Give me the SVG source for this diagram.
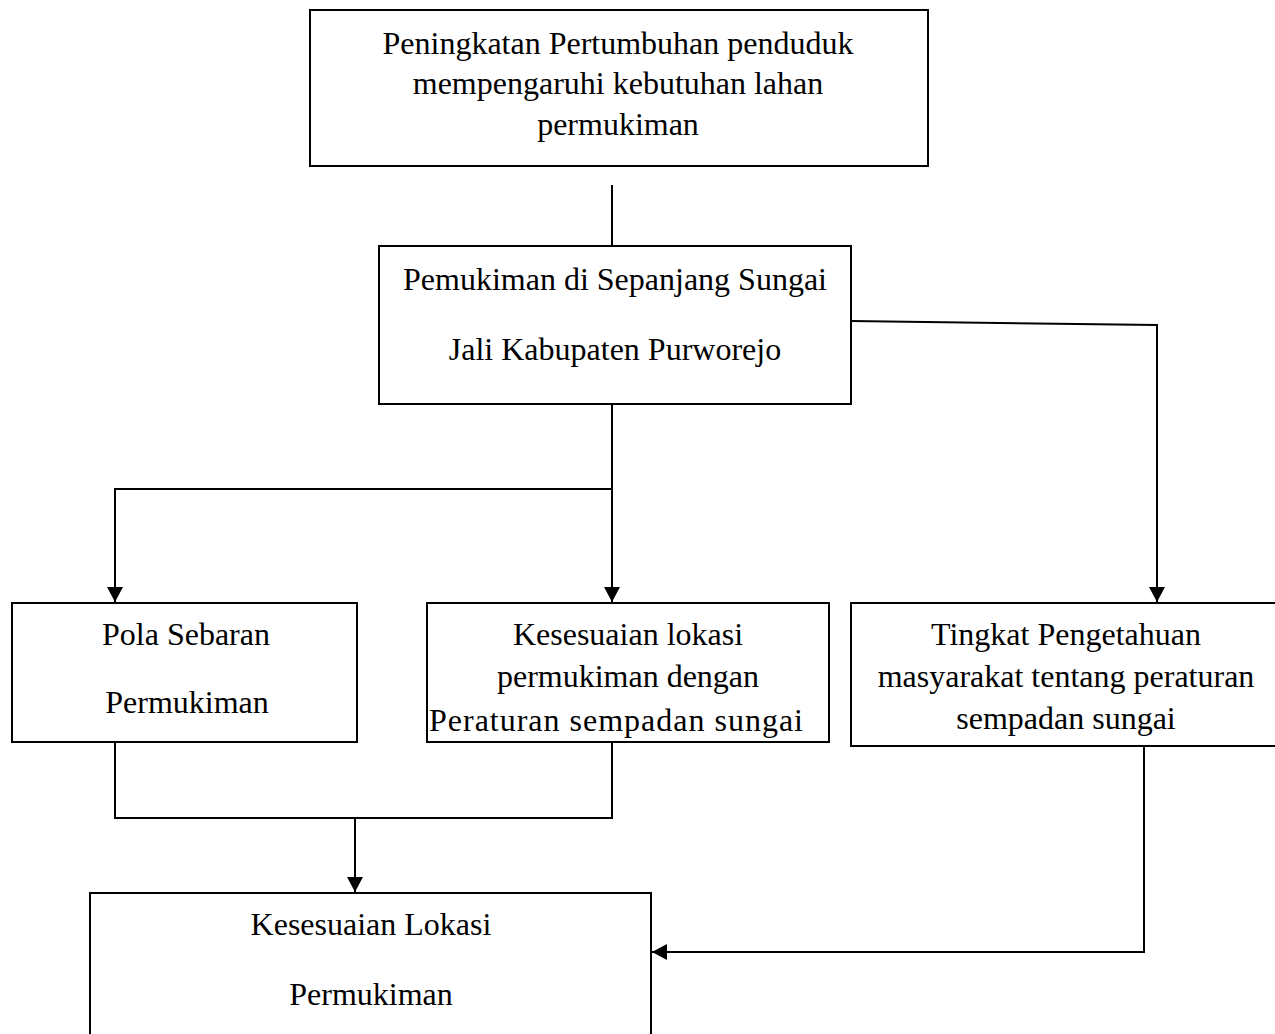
<svg xmlns="http://www.w3.org/2000/svg" width="1275" height="1034" viewBox="0 0 1275 1034">
<style>
.box{fill:#fff;stroke:#000;stroke-width:2}
.t{font-family:"Liberation Serif","Times New Roman",serif;font-size:32px;fill:#000;text-anchor:middle}
.c{fill:none;stroke:#000;stroke-width:2}
</style>
<defs>
<marker id="ah" markerWidth="16" markerHeight="15" refX="8" refY="15" orient="0" markerUnits="userSpaceOnUse">
<path d="M0,0 L16,0 L8,15 Z" fill="#000"/>
</marker>
<marker id="al" markerWidth="15" markerHeight="16" refX="0" refY="8" orient="0" markerUnits="userSpaceOnUse">
<path d="M15,0 L15,16 L0,8 Z" fill="#000"/>
</marker>
<clipPath id="clipK"><rect x="427" y="603" width="402" height="138"/></clipPath>
</defs>
<g id="connectors">
<path class="c" d="M612,185 V246"/>
<path class="c" d="M612,404 V489 H115 V602" marker-end="url(#ah)"/>
<path class="c" d="M612,489 V602" marker-end="url(#ah)"/>
<path class="c" d="M851,321 L1157,325 V602" marker-end="url(#ah)"/>
<path class="c" d="M115,742 V818 H612 V742"/>
<path class="c" d="M355,818 V892" marker-end="url(#ah)"/>
<path class="c" d="M1144,746 V952 H652" marker-end="url(#al)"/>
</g>
<g id="n1">
<rect class="box" x="310" y="10" width="618" height="156"/>
<text class="t" x="618" y="54">Peningkatan Pertumbuhan penduduk</text>
<text class="t" x="618" y="94">mempengaruhi kebutuhan lahan</text>
<text class="t" x="618" y="135">permukiman</text>
</g>
<g id="n2">
<rect class="box" x="379" y="246" width="472" height="158"/>
<text class="t" x="615" y="290">Pemukiman di Sepanjang Sungai</text>
<text class="t" x="615" y="360">Jali Kabupaten Purworejo</text>
</g>
<g id="n3">
<rect class="box" x="12" y="603" width="345" height="139"/>
<text class="t" x="186" y="645">Pola Sebaran</text>
<text class="t" x="187" y="713">Permukiman</text>
</g>
<g id="n4">
<rect class="box" x="427" y="603" width="402" height="139"/>
<g clip-path="url(#clipK)">
<text class="t" x="628" y="645">Kesesuaian lokasi</text>
<text class="t" x="628" y="687">permukiman dengan</text>
<text class="t" x="616" y="731" textLength="374" lengthAdjust="spacing">Peraturan sempadan sungai</text>
</g>
<rect x="427" y="603" width="402" height="139" fill="none" stroke="#000" stroke-width="2"/>
</g>
<g id="n5">
<rect class="box" x="851" y="603" width="440" height="143"/>
<text class="t" x="1066" y="645">Tingkat Pengetahuan</text>
<text class="t" x="1066" y="687">masyarakat tentang peraturan</text>
<text class="t" x="1066" y="729">sempadan sungai</text>
</g>
<g id="n6">
<rect class="box" x="90" y="893" width="561" height="160"/>
<text class="t" x="371" y="935">Kesesuaian Lokasi</text>
<text class="t" x="371" y="1005">Permukiman</text>
</g>
</svg>
